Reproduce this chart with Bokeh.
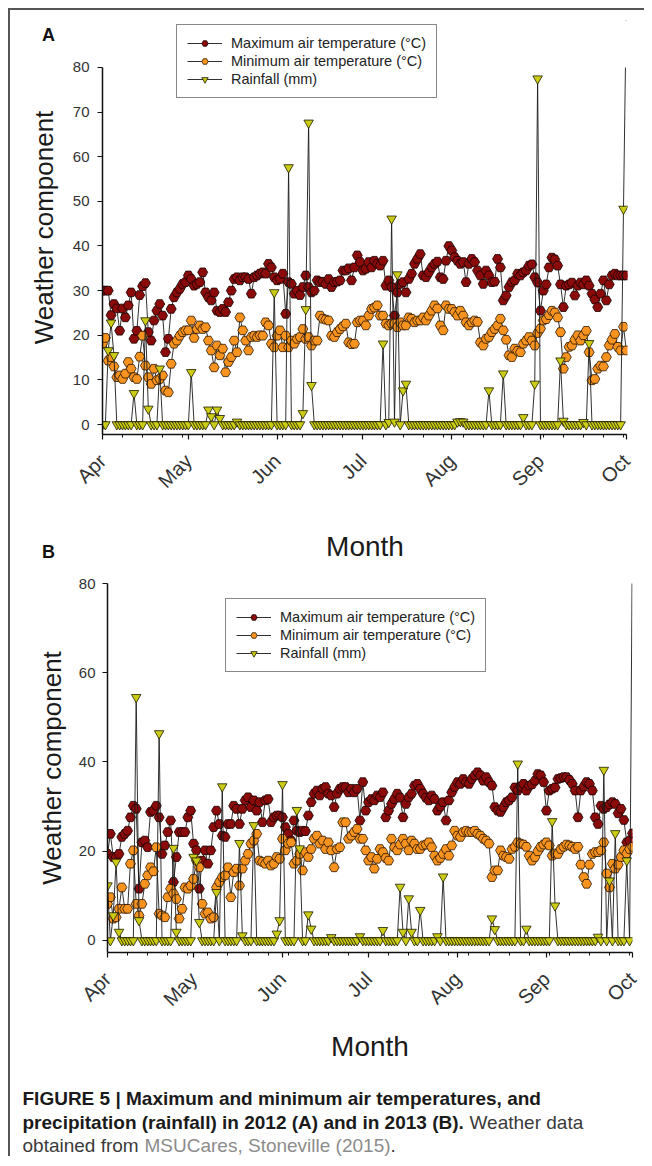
import math
from bokeh.plotting import figure
from bokeh.models import (Range1d, FixedTicker, Legend, LegendItem, Label, ColumnDataSource,
                          BoxAnnotation)
from bokeh.layouts import column
from bokeh.embed import file_html
from bokeh.resources import INLINE
from bokeh.core.properties import value

# ---------------- data ----------------
MONTH_LABELS = ["Apr", "May", "Jun", "Jul", "Aug", "Sep", "Oct"]
MONTH_START_DAYS = [0, 30, 61, 91, 122, 153, 183]
WEEK_TICK_DAYS = [7, 14, 21, 28, 35, 42, 49, 56, 63, 70, 77, 84, 91, 98, 105, 112,
                  119, 126, 133, 140, 147, 154, 161, 168, 175, 182]
DAYS = list(range(184))  # day 0 = 1 April ... day 183 = 1 October

# 2012 (panel A)
MAX_A = [30, 30, 30, 24.5, 27, 26, 21, 26, 24, 26.7,
         29.6, 19.2, 21, 29, 31, 31.7, 20.7, 18.8, 23.3, 25.5,
         27, 24.4, 16.2, 19.2, 25.9, 28.5, 29.6, 30.4, 31.5, 31.9,
         33.4, 32.6, 31.1, 31.5, 31.9, 34.1, 29.6, 28.5, 27.8, 29.6,
         25.5, 25.2, 25.9, 25.2, 27.4, 30, 32.6, 33, 32.3, 33,
         33, 32.6, 29.3, 33, 33.4, 33.8, 34.1, 33.8, 36, 35.2,
         33, 32.3, 32.6, 33.8, 24.8, 31.9, 31.5, 29.3, 30, 29,
         30.8, 33.4, 30.8, 29.6, 30, 32.3, 31.9, 32, 31.5, 32.6,
         30.8, 31.9, 32, 32.3, 34.5, 34.5, 35, 32.3, 35.2, 37.9,
         36.4, 34.5, 34.9, 36.4, 35.2, 36.7, 36, 35.6, 36.7, 31.1,
         32.3, 30.8, 24.4, 29.6, 31.5, 31.9, 29.6, 32.6, 33.8, 36,
         37.1, 38.2, 33.4, 33, 34.1, 35.2, 36, 36.5, 33, 32.6,
         36.7, 40, 39, 37.5, 36.7, 36, 36.4, 31.9, 36, 37.1,
         36.4, 34.5, 33.4, 31.5, 34.5, 33.4, 31.9, 32, 37.1, 35.2,
         27.8, 28.9, 30.8, 31.9, 32.3, 33.8, 33.4, 34.1, 34.5, 35.6,
         35.9, 33, 31.8, 25.5, 30, 31.4, 35.2, 37.4, 37, 35.6,
         31.4, 26.3, 31.1, 31.4, 31.8, 28.9, 31.1, 31.8, 31.4, 32.3,
         31.1, 29.3, 28, 26.3, 29.3, 32.3, 27.8, 31.4, 33.4, 33.8,
         33.4, 33.4, 33.4, 33.4]
MIN_A = [18.1, 19.4, 14.3, 15.1, 13, 10.6, 11, 10.2, 11.4, 14,
         12.5, 10.6, 10.2, 15.2, 19.9, 13.2, 10.6, 9.1, 12.5, 9.9,
         10.2, 11, 7.6, 7.2, 13.6, 18.1, 18.8, 19.9, 20.7, 21.1,
         21.1, 23.3, 19.4, 21.4, 22.2, 21.4, 21.8, 18.8, 16.6, 12.8,
         17.7, 15.5, 17, 11.7, 14, 15.1, 18.8, 16.2, 24, 21.1,
         18.8, 16.6, 19.6, 19.9, 19.6, 20, 19.9, 22.9, 22.2, 18.1,
         17.3, 19.9, 21.1, 17.3, 19.9, 17.3, 18.8, 18.1, 19.2, 19.6,
         21.4, 19.2, 19.6, 17.7, 18.8, 18.8, 24.4, 23.7, 23.5, 23.3,
         19.9, 19.6, 20.7, 21.4, 22, 22.6, 18.4, 18, 18.1, 22.9,
         23.3, 23.3, 22.2, 24.4, 25.9, 26.2, 26.7, 24.4, 24.4, 22.6,
         22.2, 22.6, 22.6, 21.8, 22.9, 22.2, 22.2, 24, 23.7, 22.9,
         23.3, 23.3, 24, 23.3, 24.4, 25.5, 26.7, 26, 22.2, 21.1,
         26.7, 25.9, 25.9, 25.2, 24.4, 25.5, 24.4, 22.9, 22.2, 22.9,
         23.3, 23, 18.4, 17.7, 19.2, 19.6, 20.7, 21.4, 22.2, 23.7,
         21.1, 19, 15.5, 15.1, 17, 16.5, 16.2, 18.1, 18.8, 19.6,
         18.8, 17.7, 20.5, 21.5, 23.3, 23.6, 24.5, 25.5, 25.1, 24,
         20.7, 12.5, 15.1, 17.4, 17.7, 19, 20, 18.8, 20, 21,
         16.2, 9.9, 10.2, 12.5, 13.2, 13, 15.1, 17.7, 19, 20.3,
         17.4, 16.6, 21.9, 16.6]
RAIN_A_DAYS = [2, 3, 4, 11, 15, 16, 20, 31, 37, 38, 40, 41, 47, 60, 65, 70, 71, 72, 73, 98,
               100, 101, 102, 103, 105, 106, 124, 125, 126, 135, 140, 147, 151, 152, 160, 161,
               168, 170, 182, 183]
RAIN_A_MM = [16.6, 22.8, 15.5, 7, 23.3, 3.5, 12.5, 11.7, 3.3, 1.8, 3.3, 1.4, 0.6, 29.6, 57.6,
             2.5, 25.8, 67.6, 8.8, 18.1, 0.5, 46.1, 0.6, 33.6, 7.6, 9.1, 0.6, 0.7, 0.6, 7.6,
             11.4, 1.6, 9.1, 77.5, 14.3, 0.8, 0.5, 18.2, 48.3, 95]

# 2013 (panel B)
MAX_B = [19.4, 23.9, 18.7, 18.7, 19.4, 23.2, 23.9, 24.6, 27.6, 30.2,
         29.5, 11.6, 22, 22.4, 20.9, 28.8, 29.1, 30.2, 27.6, 19.4,
         21.3, 24.3, 26.9, 13.1, 18.7, 24.3, 24.3, 24.3, 27.6, 29.1,
         21.7, 20.2, 11.6, 17.9, 20.2, 17.2, 20.2, 25.4, 29.1, 26.1,
         23.5, 23.2, 26.1, 26.1, 30.2, 29.5, 26.1, 29.5, 31.4, 32.1,
         29.9, 31.4, 29.1, 31, 26.5, 31.4, 31.7, 26.5, 27.6, 28,
         28, 27.6, 25.4, 23.9, 22.4, 26.9, 24.6, 24.3, 24.6, 24.5,
         28, 31, 32.9, 33.6, 32.5, 34, 34.4, 32.9, 32.5, 29.9,
         32.9, 34, 34.4, 34.4, 33.2, 34, 33.2, 34, 26.9, 35.5,
         29.1, 31, 31.7, 31.4, 32.5, 32.1, 33.2, 27.6, 29.1, 30.6,
         31.7, 32.9, 32, 27.6, 30.6, 32.1, 32.9, 34.7, 35.1, 34,
         32.9, 32, 31.4, 32.5, 31.7, 29.1, 30, 31, 26.9, 31.4,
         33.2, 34.4, 35.5, 35.1, 36.2, 35.5, 35.1, 36.2, 37, 37.7,
         37, 35.8, 36.6, 35.5, 34.7, 29.9, 29.1, 28.8, 29.9, 31,
         31.4, 32.1, 34.3, 33.6, 34.5, 35.1, 33.6, 34.7, 35, 35.8,
         37.3, 37, 35.5, 29.1, 33.6, 34, 34.3, 36.2, 36.4, 36.6,
         36.6, 36, 35.1, 33.6, 27.6, 33.6, 34.5, 35.5, 35.1, 33.6,
         27.6, 26.1, 30.2, 29.5, 29.9, 30.5, 31, 30.6, 28.5, 29.5,
         27, 22, 22.4, 24]
MIN_B = [8.2, 9.7, 4.9, 5.2, 7.1, 11.9, 7.1, 7.1, 17.2, 20.2,
         8.2, 5.6, 8.2, 12.7, 14.6, 16.4, 15.5, 20.9, 6, 5.6,
         5.2, 9.7, 11.6, 10.5, 9.3, 4.9, 7.1, 11.9, 11.6, 12.3,
         13.8, 17.9, 16.4, 8.2, 6, 6.3, 4.9, 5.2, 11.9, 13.1,
         14.2, 14.6, 16.4, 9.7, 15.3, 16.1, 12.3, 16.1, 17.9, 19.4,
         21.7, 22.4, 23.9, 17.9, 17.6, 17.2, 17.9, 16.8, 17.2, 18.7,
         18.3, 22.8, 20.2, 21.7, 22, 17.2, 17.9, 19.4, 15.7, 19.8,
         18.7, 20.5, 22.8, 23.5, 21.7, 22.4, 20.5, 22, 20.2, 16.4,
         20.5, 20.9, 26.5, 26.5, 22.8, 23.5, 24.3, 25, 22.8, 22.8,
         20.2, 17.9, 18.7, 16.1, 18.3, 20.5, 19.8, 18.5, 17.9, 22.8,
         20.9, 20.2, 21.5, 22.8, 21.7, 20.2, 22.4, 21.7, 20.5, 20.5,
         21.3, 21.5, 22, 20.9, 19, 17.9, 18.5, 19.4, 20.5, 19,
         21.3, 24.6, 23.5, 23.2, 24.3, 24.6, 24.3, 24.3, 24.6, 23.9,
         23.5, 22.8, 22.4, 21.7, 14.2, 15.7, 15.7, 20.2, 19, 18.7,
         18.3, 20.5, 21, 22, 21.7, 21.5, 21, 19, 17.9, 18.7,
         20, 21, 21.5, 22, 21.3, 19, 19.5, 19.4, 20.5, 21,
         21.5, 21.3, 21, 20.5, 21, 17, 14.2, 12.7, 17, 19.4,
         19.8, 19.8, 20.2, 22, 15, 11.9, 17.2, 16.1, 17, 18.7,
         20.2, 19.5, 20.5, 21]
RAIN_B_DAYS = [0, 2, 3, 4, 10, 11, 18, 23, 24, 30, 31, 32, 38, 40, 46, 47, 51, 59, 60, 61,
               66, 67, 70, 71, 78, 88, 96, 102, 103, 105, 106, 109, 115, 117, 134, 135, 143,
               146, 155, 156, 171, 173, 175, 177, 181, 183]
RAIN_B_MM = [12.3, 5.6, 17.6, 1.9, 54.5, 4.5, 46.4, 20.7, 1.9, 18.7, 17.9, 4.1, 10.8, 34.5,
             21.8, 1.1, 25.8, 1.5, 4.5, 35, 29.2, 20.6, 5.8, 2.6, 0.7, 0.9, 2.3, 12, 1.9, 9.4,
             1.9, 6.8, 0.9, 14.3, 4.9, 2.5, 39.6, 2.6, 26.7, 7.8, 0.8, 38.2, 13.4, 24, 17.9, 95]

SERIES_NAMES = ["Maximum air temperature (\u00b0C)", "Minimum air temperature (\u00b0C)", "Rainfall (mm)"]
Y_TICKS_A = [0, 10, 20, 30, 40, 50, 60, 70, 80]
Y_TICKS_B = [0, 20, 40, 60, 80]
Y_TOP = 80

CAPTION_BOLD_1 = "FIGURE 5 | Maximum and minimum air temperatures, and"
CAPTION_BOLD_2 = "precipitation (rainfall) in 2012 (A) and in 2013 (B)."
CAPTION_PLAIN_2 = "Weather data"
CAPTION_PLAIN_3 = "obtained from"
CAPTION_LINK_3 = "MSUCares, Stoneville (2015)"
CAPTION_END_3 = "."

# ---------------- style ----------------
FONT = "Liberation Sans"
MAX_COLOR = "#8b0a0a"
MIN_COLOR = "#f7931e"
RAIN_COLOR = "#cccc14"
W = 634


def daily(days, mm):
    out = [0.0] * len(DAYS)
    for d, v in zip(days, mm):
        out[d] = v
    return out


def no_align(p):
    if "frame_align" in p.properties():
        p.frame_align = False


def make_panel(max_t, min_t, rain, x_hi, y_lo, y_hi, y_ticks, fw, fh, bl, br, bt, bb,
               xlab_standoff, ylab_standoff, ytick_standoff, legend_loc):
    p = figure(frame_width=fw, frame_height=fh, x_range=Range1d(0, x_hi), y_range=Range1d(y_lo, y_hi),
               output_backend="svg", toolbar_location=None,
               min_border_left=bl, min_border_right=br, min_border_top=bt, min_border_bottom=bb)
    no_align(p)
    p.outline_line_color = None
    p.xgrid.visible = False
    p.ygrid.visible = False
    p.background_fill_color = "white"
    p.border_fill_color = "white"

    src = ColumnDataSource(dict(day=DAYS, tmax=max_t, tmin=min_t, rain=rain))
    lc = "#1a1a1a"
    l1 = p.line("day", "tmax", source=src, line_color=lc, line_width=0.9)
    s1 = p.scatter("day", "tmax", source=src, marker="hex", size=10,
                   fill_color=MAX_COLOR, line_color="#150000", line_width=0.8)
    l2 = p.line("day", "tmin", source=src, line_color=lc, line_width=0.9)
    s2 = p.scatter("day", "tmin", source=src, marker="hex", size=10,
                   fill_color=MIN_COLOR, line_color="#2a1500", line_width=0.8)
    l3 = p.line("day", "rain", source=src, line_color=lc, line_width=0.9)
    s3 = p.scatter("day", "rain", source=src, marker="inverted_triangle", size=9.5,
                   fill_color=RAIN_COLOR, line_color="#1a1a00", line_width=0.8)

    xa = p.xaxis[0]
    xa.ticker = FixedTicker(ticks=MONTH_START_DAYS, minor_ticks=WEEK_TICK_DAYS)
    xa.major_label_overrides = {d: m for d, m in zip(MONTH_START_DAYS, MONTH_LABELS)}
    xa.major_label_orientation = math.pi / 4
    xa.major_label_text_font = FONT
    xa.major_label_text_font_size = "20px"
    xa.major_label_text_color = "#333333"
    xa.major_label_standoff = 18
    xa.axis_label = "Month"
    xa.axis_label_text_font = FONT
    xa.axis_label_text_font_size = "28px"
    xa.axis_label_text_font_style = "normal"
    xa.axis_label_text_color = "#1a1a1a"
    xa.axis_label_standoff = xlab_standoff
    xa.bounds = (0, 183)
    xa.major_tick_out = 5
    xa.major_tick_in = 0
    xa.minor_tick_out = 3
    xa.minor_tick_in = 0

    ya = p.yaxis[0]
    ya.ticker = FixedTicker(ticks=y_ticks)
    ya.bounds = (y_lo, Y_TOP)
    ya.major_label_text_font = FONT
    ya.major_label_text_font_size = "15px"
    ya.major_label_text_color = "#333333"
    ya.major_label_standoff = ytick_standoff
    ya.axis_label = "Weather component"
    ya.axis_label_text_font = FONT
    ya.axis_label_text_font_size = "26px"
    ya.axis_label_text_font_style = "normal"
    ya.axis_label_text_color = "#1a1a1a"
    ya.axis_label_standoff = ylab_standoff
    ya.major_tick_out = 5
    ya.major_tick_in = 0

    for ax in (xa, ya):
        ax.axis_line_color = "#111111"
        ax.axis_line_width = 1.5
        ax.major_tick_line_color = "#111111"
        ax.major_tick_line_width = 1.2
    xa.minor_tick_line_color = "#111111"
    ya.minor_tick_line_color = None

    # the plotting area ends at 80: hide what lies above it
    if y_hi > Y_TOP:
        p.add_layout(BoxAnnotation(bottom=Y_TOP, left=150, fill_color="white", fill_alpha=1.0,
                                   line_color=None))

    legend = Legend(items=[LegendItem(label=SERIES_NAMES[0], renderers=[l1, s1]),
                           LegendItem(label=SERIES_NAMES[1], renderers=[l2, s2]),
                           LegendItem(label=SERIES_NAMES[2], renderers=[l3, s3])],
                    location=legend_loc, orientation="vertical",
                    label_text_font=FONT, label_text_font_size="14.5px", label_text_color="#222222",
                    label_height=16, glyph_height=16, glyph_width=35, label_standoff=9,
                    spacing=2, padding=10, margin=0,
                    border_line_color="#111111", border_line_width=1.5,
                    background_fill_color="white", background_fill_alpha=1.0)
    p.add_layout(legend)
    return p


# panel A: frame from page y 20 to 434 (value 80 at y 67), x 102..626
pA = make_panel(MAX_A, MIN_A, daily(RAIN_A_DAYS, RAIN_A_MM), 183.4, -2.24, 90.53, Y_TICKS_A,
                fw=525, fh=414, bl=92, br=17, bt=10, bb=132,
                xlab_standoff=28, ylab_standoff=11, ytick_standoff=8, legend_loc=(74, 336))
# panel B: frame from page y 583 to 952, x 107..632
pB = make_panel(MAX_B, MIN_B, daily(RAIN_B_DAYS, RAIN_B_MM), 183, -2.69, 80, Y_TICKS_B,
                fw=525, fh=369, bl=97, br=12, bt=17, bb=121,
                xlab_standoff=10, ylab_standoff=9, ytick_standoff=7, legend_loc=(118, 280))

# panel letters, drawn in side panels of the upper figure
pA.add_layout(Label(x=-18.86, y=87.17, text="A", text_font=FONT, text_font_size="18px",
                    text_font_style="bold", text_align="center", text_baseline="middle",
                    text_color="#111111"), "left")
pA.add_layout(Label(x=-18.86, y=-28.68, text="B", text_font=FONT, text_font_size="18px",
                    text_font_style="bold", text_align="center", text_baseline="middle",
                    text_color="#111111"), "right")

# caption
cap = figure(frame_width=W, frame_height=83, x_range=Range1d(0, W), y_range=Range1d(83, 0),
             output_backend="svg", toolbar_location=None, min_border=0,
             x_axis_type=None, y_axis_type=None)
no_align(cap)
cap.outline_line_color = None
cap.background_fill_color = "white"
cap.border_fill_color = "white"
cap.text(x=[12, 12], y=[25, 49], text=[CAPTION_BOLD_1, CAPTION_BOLD_2],
         text_font=value(FONT), text_font_size="19px", text_font_style="bold",
         text_baseline="middle", text_align="left", text_color="#1a1a1a")
cap.text(x=[459, 12], y=[49, 72], text=[CAPTION_PLAIN_2, CAPTION_PLAIN_3],
         text_font=value(FONT), text_font_size="19px",
         text_baseline="middle", text_align="left", text_color="#3a3a3a")
cap.text(x=[134], y=[72], text=[CAPTION_LINK_3],
         text_font=value(FONT), text_font_size="19px",
         text_baseline="middle", text_align="left", text_color="#8c8c8c")
cap.text(x=[380], y=[72], text=[CAPTION_END_3],
         text_font=value(FONT), text_font_size="19px",
         text_baseline="middle", text_align="left", text_color="#3a3a3a")

layout = column(pA, pB, cap, spacing=0, margin=(8, 0, 0, 8),
                styles={"border-left": "2px solid #555555", "border-top": "2px solid #555555"})

open("out.html", "w").write(file_html(layout, INLINE))
